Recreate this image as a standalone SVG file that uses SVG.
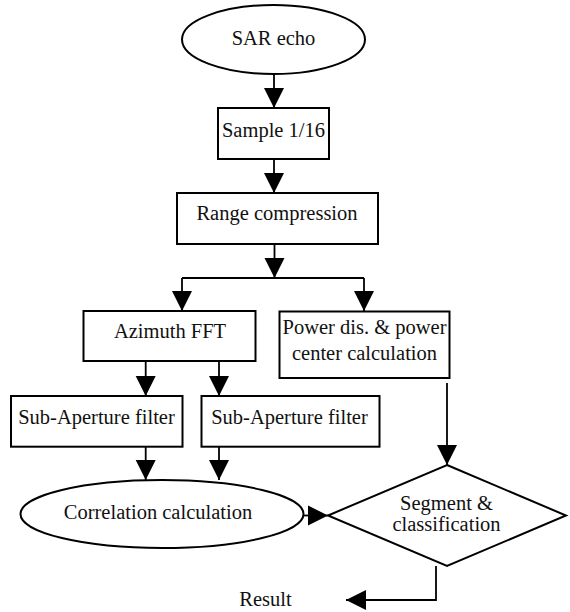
<svg xmlns="http://www.w3.org/2000/svg" width="570" height="612" viewBox="0 0 570 612">
<style>
.shape{fill:#fff;stroke:#000;stroke-width:2}
.t{font-family:"Liberation Serif","Times New Roman",serif;font-size:20.5px;fill:#111;text-anchor:middle}
.c{fill:none;stroke:#000;stroke-width:1.8}
.a{marker-end:url(#ah)}
</style>
<defs>
<marker id="ah" markerUnits="userSpaceOnUse" markerWidth="21" markerHeight="22" refX="20" refY="10.5" orient="auto" viewBox="0 0 21 22">
<path d="M0,0.5 L20,10.5 L0,20.5 z" fill="#000"/>
</marker>
</defs>
<rect width="570" height="612" fill="#fff"/>
<g id="connectors">
<path class="c a" d="M274,74 V108"/>
<path class="c a" d="M274,159 V193"/>
<path class="c a" d="M274.5,244 V278"/>
<path class="c" d="M182,278 H364"/>
<path class="c a" d="M182,278 V311"/>
<path class="c a" d="M364,278 V311"/>
<path class="c a" d="M145.7,361 V396"/>
<path class="c a" d="M219,361 V396"/>
<path class="c a" d="M145.7,446.7 V480"/>
<path class="c a" d="M219,446.7 V480"/>
<path class="c a" d="M447,383 V465"/>
<path class="c a" d="M303.5,515.5 H328"/>
<path class="c a" d="M436,566 V600 H346"/>
</g>
<g id="sar-echo">
<ellipse class="shape" cx="273.5" cy="39.5" rx="91.5" ry="34.5"/>
<text class="t" x="273.5" y="44.5">SAR echo</text>
</g>
<g id="sample">
<rect class="shape" x="218" y="108" width="111" height="51"/>
<text class="t" x="273.5" y="136.7">Sample 1/16</text>
</g>
<g id="range-compression">
<rect class="shape" x="177" y="193" width="201" height="51"/>
<text class="t" x="277" y="220">Range compression</text>
</g>
<g id="azimuth-fft">
<rect class="shape" x="83.5" y="311" width="172" height="50"/>
<text class="t" x="170" y="338">Azimuth FFT</text>
</g>
<g id="power">
<rect class="shape" x="279.5" y="311.5" width="170" height="66.5"/>
<text class="t" x="364.5" y="334">Power dis. &amp; power</text>
<text class="t" x="364.5" y="360">center calculation</text>
</g>
<g id="sub-aperture-1">
<rect class="shape" x="11" y="396" width="171.5" height="50.7"/>
<text class="t" x="96.5" y="424">Sub-Aperture filter</text>
</g>
<g id="sub-aperture-2">
<rect class="shape" x="201.5" y="396" width="178" height="50.7"/>
<text class="t" x="289.5" y="424">Sub-Aperture filter</text>
</g>
<g id="correlation">
<ellipse class="shape" cx="162" cy="514" rx="141.5" ry="34"/>
<text class="t" x="158" y="518.5">Correlation calculation</text>
</g>
<g id="segment">
<polygon class="shape" points="447,465 566,515.5 447,566 328,515.5"/>
<text class="t" x="446.5" y="510">Segment &amp;</text>
<text class="t" x="446.5" y="531">classification</text>
</g>
<g id="result">
<text class="t" x="265.5" y="606">Result</text>
</g>
</svg>
